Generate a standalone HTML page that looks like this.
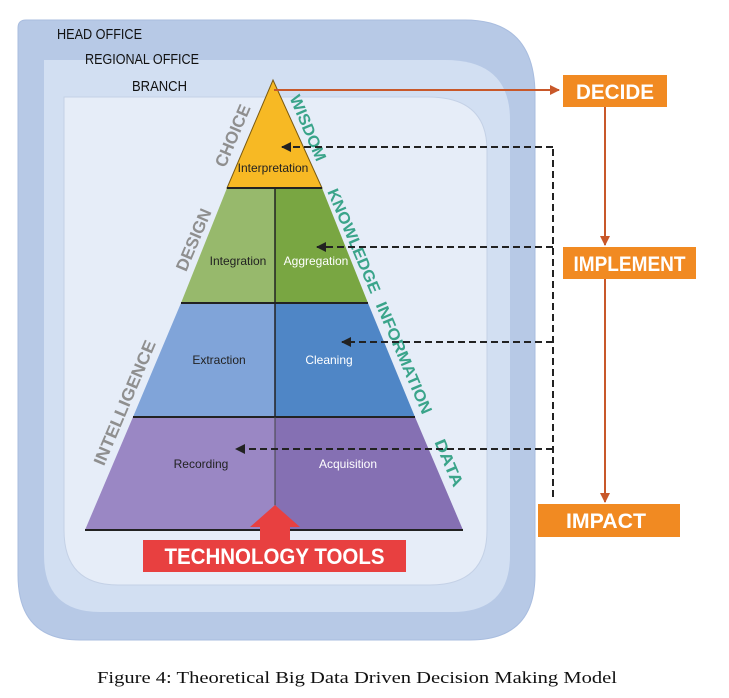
<!DOCTYPE html>
<html><head><meta charset="utf-8"><style>
html,body{margin:0;padding:0;background:#fff;width:729px;height:698px;overflow:hidden}
svg{display:block}
</style></head><body>
<svg width="729" height="698" viewBox="0 0 729 698" xmlns="http://www.w3.org/2000/svg" font-family="Liberation Sans, sans-serif">
<defs>
<marker id="oa" markerWidth="10" markerHeight="10" refX="9" refY="5" orient="auto" markerUnits="userSpaceOnUse"><path d="M0,0 L10,5 L0,10 z" fill="#c8582a"/></marker>
<marker id="ka" markerWidth="10" markerHeight="10" refX="9" refY="5" orient="auto" markerUnits="userSpaceOnUse"><path d="M0,0 L10,5 L0,10 z" fill="#222"/></marker>
</defs>
<!-- boxes -->
<path d="M18,28 Q18,20 26,20 H465 Q535,20 535,95 V575 Q535,640 470,640 H80 Q18,640 18,575 Z" fill="#b7c9e6" stroke="#a9bddf"/>
<path d="M44,60 H445 Q510,60 510,120 V555 Q510,612 452,612 H100 Q44,612 44,555 Z" fill="#d2dff2"/>
<path d="M64,97 H428 Q487,97 487,150 V530 Q487,585 430,585 H118 Q64,585 64,530 Z" fill="#e6edf8" stroke="#c4d1e6"/>
<text x="57" y="39" font-size="15" fill="#111" textLength="85" lengthAdjust="spacingAndGlyphs">HEAD OFFICE</text>
<text x="85" y="64" font-size="15" fill="#111" textLength="114" lengthAdjust="spacingAndGlyphs">REGIONAL OFFICE</text>
<text x="132" y="91" font-size="15" fill="#111" textLength="55" lengthAdjust="spacingAndGlyphs">BRANCH</text>
<!-- pyramid -->
<polygon points="273,80 322,188 227,188" fill="#f7b924" stroke="#7a5a10" stroke-width="1"/>
<polygon points="227,188 275,188 275,303 181,303" fill="#97b96c"/>
<polygon points="275,188 322,188 368,303 275,303" fill="#79a642"/>
<polygon points="181,303 275,303 275,417 133,417" fill="#80a4d9"/>
<polygon points="275,303 368,303 415,417 275,417" fill="#4f86c6"/>
<polygon points="133,417 275,417 275,530 85,530" fill="#9a87c4"/>
<polygon points="275,417 415,417 463,530 275,530" fill="#8570b3"/>
<g stroke="#222" stroke-width="2"><line x1="227" y1="188" x2="322" y2="188"/><line x1="181" y1="303" x2="368" y2="303"/><line x1="133" y1="417" x2="415" y2="417"/><line x1="85" y1="530" x2="463" y2="530"/><line x1="275" y1="188" x2="275" y2="417" stroke-width="1.5"/><line x1="275" y1="417" x2="275" y2="530" stroke-width="1" stroke="#444"/></g>
<g font-size="12" text-anchor="middle">
<text x="273" y="172" fill="#222">Interpretation</text>
<text x="238" y="265" fill="#222">Integration</text>
<text x="316" y="265" fill="#fff">Aggregation</text>
<text x="219" y="364" fill="#222">Extraction</text>
<text x="329" y="364" fill="#fff">Cleaning</text>
<text x="201" y="468" fill="#222">Recording</text>
<text x="348" y="468" fill="#fff">Acquisition</text>
</g>
<g font-size="17" font-weight="bold" fill="#8f8f8f" text-anchor="middle">
<text transform="translate(238,138) rotate(-67)" textLength="66" lengthAdjust="spacingAndGlyphs">CHOICE</text>
<text transform="translate(199,242) rotate(-67)" textLength="66" lengthAdjust="spacingAndGlyphs">DESIGN</text>
<text transform="translate(130,405) rotate(-67)" textLength="134" lengthAdjust="spacingAndGlyphs">INTELLIGENCE</text>
</g>
<g font-size="16" font-weight="bold" fill="#3aa48a" text-anchor="middle">
<text transform="translate(303,130) rotate(67)" textLength="70" lengthAdjust="spacingAndGlyphs">WISDOM</text>
<text transform="translate(349,243) rotate(67)" textLength="112" lengthAdjust="spacingAndGlyphs">KNOWLEDGE</text>
<text transform="translate(399,360) rotate(67)" textLength="120" lengthAdjust="spacingAndGlyphs">INFORMATION</text>
<text transform="translate(444,465) rotate(67)" textLength="50" lengthAdjust="spacingAndGlyphs">DATA</text>
</g>
<!-- tech tools -->
<polygon points="275,505 300,527 290,527 290,542 260,542 260,527 250,527" fill="#e84040"/>
<rect x="143" y="540" width="263" height="32" fill="#e84040"/>
<text x="274.5" y="564" font-size="22" font-weight="bold" fill="#fff" text-anchor="middle" textLength="220" lengthAdjust="spacingAndGlyphs">TECHNOLOGY TOOLS</text>
<!-- orange flow -->
<line x1="274" y1="90" x2="559" y2="90" stroke="#c8582a" stroke-width="2" marker-end="url(#oa)"/>
<line x1="605" y1="107" x2="605" y2="245" stroke="#c8582a" stroke-width="2" marker-end="url(#oa)"/>
<line x1="605" y1="279" x2="605" y2="502" stroke="#c8582a" stroke-width="2" marker-end="url(#oa)"/>
<rect x="563" y="75" width="104" height="32" fill="#f18a22"/>
<text x="615" y="99" font-size="21" font-weight="bold" fill="#fff" text-anchor="middle" textLength="78" lengthAdjust="spacingAndGlyphs">DECIDE</text>
<rect x="563" y="247" width="133" height="32" fill="#f18a22"/>
<text x="629.5" y="271" font-size="21" font-weight="bold" fill="#fff" text-anchor="middle" textLength="112" lengthAdjust="spacingAndGlyphs">IMPLEMENT</text>
<rect x="538" y="504" width="142" height="33" fill="#f18a22"/>
<text x="606" y="528" font-size="21" font-weight="bold" fill="#fff" text-anchor="middle" textLength="80" lengthAdjust="spacingAndGlyphs">IMPACT</text>
<!-- dashed -->
<g stroke="#222" stroke-width="2" stroke-dasharray="7,4" fill="none">
<path d="M553,497 V147"/>
<line x1="553" y1="147" x2="282" y2="147" marker-end="url(#ka)"/>
<line x1="553" y1="247" x2="317" y2="247" marker-end="url(#ka)"/>
<line x1="553" y1="342" x2="342" y2="342" marker-end="url(#ka)"/>
<line x1="553" y1="449" x2="236" y2="449" marker-end="url(#ka)"/>
</g>
<text x="357" y="683" font-family="Liberation Serif, serif" font-size="17" fill="#111" text-anchor="middle" textLength="520" lengthAdjust="spacingAndGlyphs">Figure 4: Theoretical Big Data Driven Decision Making Model</text>
</svg>
</body></html>
